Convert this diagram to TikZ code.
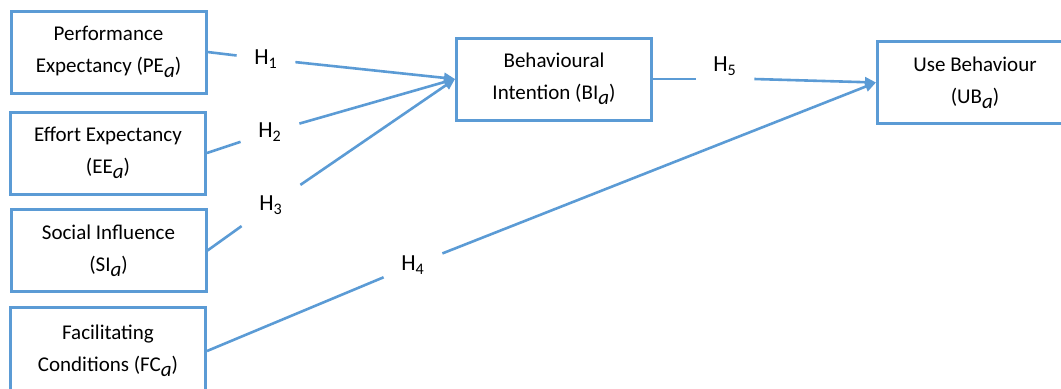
\documentclass[tikz,border=0pt]{standalone}
\usepackage{fontspec}
\setmainfont{Carlito}
\usetikzlibrary{arrows.meta}
\definecolor{lineblue}{HTML}{5B9BD5}
\newcommand{\subA}{\raisebox{-0.5ex}{\textit{a}}}

\begin{document}
\begin{tikzpicture}[x=0.5pt,y=-0.5pt,
  box/.style={draw=lineblue,line width=1.5pt,minimum width=97.5pt,minimum height=41pt,align=center,font=\fontsize{10.5}{16}\selectfont},
  hyp/.style={minimum width=29pt,minimum height=21pt,inner sep=0pt,font=\fontsize{11.5}{13}\selectfont},
  link/.style={draw=lineblue,line width=1.3pt},
  arr/.style={link,-{Triangle[length=5.5pt,width=5pt]}}]
\useasboundingbox (0,0) rectangle (1061,388);
% constructs
\node [box] (pe) at (108.5,52) {Performance\\Expectancy (PE\subA)};
\node [box] (ee) at (108,153) {Effort Expectancy\\(EE\subA)};
\node [box] (si) at (108.5,250.5) {Social Influence\\(SI\subA)};
\node [box,minimum height=44pt] (fc) at (108,351) {Facilitating\\Conditions (FC\subA)};
\node [box] (bi) at (554,79) {Behavioural\\Intention (BI\subA)};
\node [box] (ub) at (975,82.5) {Use Behaviour\\(UB\subA)};
% hypotheses
\node [hyp] (h1) at (266,59) {H\textsubscript{1}};
\node [hyp] (h2) at (270,132) {H\textsubscript{2}};
\node [hyp] (h3) at (271,205) {H\textsubscript{3}};
\node [hyp] (h4) at (413,265) {H\textsubscript{4}};
\node [hyp] (h5) at (725,66) {H\textsubscript{5}};
\draw [link] (pe.east) -- (h1);
\draw [arr] (h1) -- (bi.west);
\draw [link] (ee.east) -- (h2);
\draw [arr] (h2) -- (bi.west);
\draw [link] (si.east) -- (h3);
\draw [arr] (h3) -- (bi.west);
\draw [link] (fc.east) -- (h4);
\draw [arr] (h4) -- (ub.west);
\draw [link] (bi.east) -- (bi.east -| h5.west);
\draw [arr] (h5.east |- bi.east) -- (ub.west);
\end{tikzpicture}
\end{document}
